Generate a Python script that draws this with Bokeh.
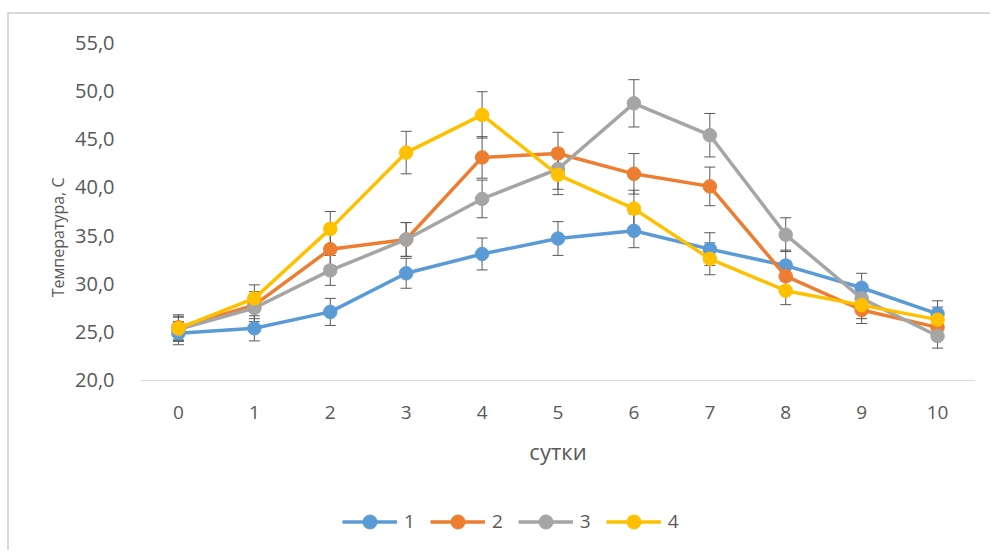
from bokeh.plotting import figure
from bokeh.models import (ColumnDataSource, Range1d, FixedTicker, Whisker, TeeHead,
                          Legend, LegendItem, CustomJSTickFormatter, Title)
from bokeh.embed import file_html
from bokeh.resources import INLINE

# ---- data ----
days = [0, 1, 2, 3, 4, 5, 6, 7, 8, 9, 10]
series_names = ["1", "2", "3", "4"]
s1 = [24.9, 25.4, 27.1, 31.1, 33.1, 34.7, 35.5, 33.6, 31.9, 29.6, 26.9]
s2 = [25.5, 27.8, 33.6, 34.6, 43.1, 43.5, 41.4, 40.1, 30.8, 27.3, 25.5]
s3 = [25.3, 27.5, 31.4, 34.6, 38.8, 41.9, 48.7, 45.4, 35.1, 28.5, 24.6]
s4 = [25.4, 28.5, 35.7, 43.6, 47.5, 41.3, 37.8, 32.6, 29.3, 27.8, 26.3]
e1 = [1.2, 1.3, 1.4, 1.55, 1.65, 1.75, 1.75, 1.7, 1.6, 1.5, 1.35]
e2 = [1.3, 1.4, 1.7, 1.75, 2.15, 2.2, 2.1, 2.0, 1.55, 1.4, 1.3]
e3 = [1.25, 1.4, 1.55, 1.75, 1.95, 2.1, 2.45, 2.25, 1.75, 1.45, 1.25]
e4 = [1.25, 1.4, 1.8, 2.2, 2.4, 2.05, 1.9, 1.65, 1.45, 1.4, 1.3]
y_ticks = [20, 25, 30, 35, 40, 45, 50, 55]
colors = ["#5B9BD5", "#ED7D31", "#A5A5A5", "#FFC000"]

FONT = "Open Sans"
TXT = "#595959"

# frame extends below the value axis so that the legend can sit inside it
p = figure(width=983, height=538, output_backend="svg", toolbar_location=None,
           x_range=Range1d(-0.5, 10.5), y_range=Range1d(2.91, 55),
           min_border_left=131, min_border_right=17, min_border_top=28,
           min_border_bottom=7)
p.margin = (14, 0, 0, 9)
p.styles = {"box-shadow": "-2px -2px 0 0 #D9D9D9"}
p.outline_line_color = None
p.xgrid.visible = False
p.ygrid.visible = False

# x axis placed at y = 20
p.xaxis.fixed_location = 20
p.xaxis.ticker = FixedTicker(ticks=days)
p.xaxis.major_tick_line_color = None
p.xaxis.minor_tick_line_color = None
p.xaxis.axis_line_color = "#D9D9D9"
p.xaxis.axis_line_width = 1
p.xaxis.major_label_text_font = FONT
p.xaxis.major_label_text_font_size = "19px"
p.xaxis.major_label_text_color = TXT
p.xaxis.major_label_standoff = 20
p.xaxis.axis_label = "сутки"
p.xaxis.axis_label_text_font = FONT
p.xaxis.axis_label_text_font_size = "22px"
p.xaxis.axis_label_text_font_style = "normal"
p.xaxis.axis_label_text_color = TXT
p.xaxis.axis_label_standoff = 13

p.yaxis.ticker = FixedTicker(ticks=y_ticks)
p.yaxis.formatter = CustomJSTickFormatter(code="return tick.toFixed(1).replace('.', ',');")
p.yaxis.major_tick_line_color = None
p.yaxis.minor_tick_line_color = None
p.yaxis.axis_line_color = None
p.yaxis.major_label_text_font = FONT
p.yaxis.major_label_text_font_size = "20px"
p.yaxis.major_label_text_color = TXT
p.yaxis.major_label_standoff = 20

ytitle = Title(text="Температура, С", align="right", offset=135, standoff=8,
               text_font=FONT, text_font_size="16px", text_font_style="normal",
               text_color=TXT)
p.add_layout(ytitle, "left")

items = []
for name, vals, errs, col in zip(series_names, [s1, s2, s3, s4], [e1, e2, e3, e4], colors):
    src = ColumnDataSource(dict(
        x=days, y=vals,
        upper=[v + e for v, e in zip(vals, errs)],
        lower=[v - e for v, e in zip(vals, errs)],
    ))
    w = Whisker(source=src, base="x", upper="upper", lower="lower",
                line_color="#595959", line_width=1,
                upper_head=TeeHead(size=11, line_color="#595959", line_width=1),
                lower_head=TeeHead(size=11, line_color="#595959", line_width=1))
    p.add_layout(w)
    ln = p.line("x", "y", source=src, line_color=col, line_width=3.5,
                line_join="round")
    sc = p.scatter("x", "y", source=src, size=13.5, fill_color=col, line_color=col)
    items.append(LegendItem(label=name, renderers=[ln, sc]))

legend = Legend(items=items, orientation="horizontal", location=(202, 6.5),
                glyph_width=55, glyph_height=35, label_standoff=7, label_width=0,
                label_height=35, spacing=15, padding=0, margin=0,
                border_line_color=None, background_fill_alpha=0,
                label_text_font=FONT, label_text_font_size="19px",
                label_text_color=TXT)
p.add_layout(legend, "center")

open("out.html", "w").write(file_html(p, INLINE))
